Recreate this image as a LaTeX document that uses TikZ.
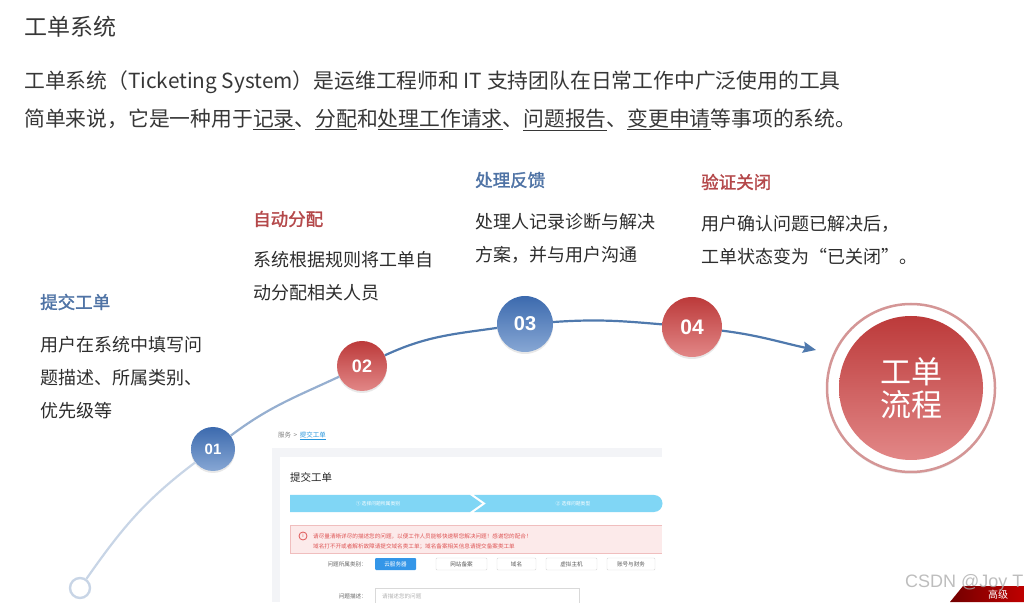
\documentclass[tikz,border=0pt]{standalone}
\usepackage{fontspec}
\setmainfont{Noto Sans CJK SC}
\newfontfamily\headfont{Noto Sans CJK SC}[FakeBold=1.6]
\newfontfamily\numfont{Liberation Sans}
\usetikzlibrary{arrows.meta,positioning,shadows}
\definecolor{txtHead}{RGB}{55,55,55}
\definecolor{txtDark}{RGB}{45,45,45}
\definecolor{stepBlue}{RGB}{79,115,165}
\definecolor{stepRed}{RGB}{180,72,74}
\definecolor{numBlueTop}{RGB}{60,106,174}
\definecolor{numBlueBot}{RGB}{135,167,212}
\definecolor{numRedTop}{RGB}{188,58,58}
\definecolor{numRedBot}{RGB}{226,135,135}
\definecolor{lineLight}{RGB}{200,213,230}
\definecolor{lineMid}{RGB}{150,175,208}
\definecolor{lineBlue}{RGB}{79,121,173}
\definecolor{ringRed}{RGB}{212,150,150}
\definecolor{panelGray}{RGB}{243,244,247}
\definecolor{barCyan}{RGB}{128,214,245}
\definecolor{warnPink}{RGB}{252,234,234}
\definecolor{warnLine}{RGB}{240,190,190}
\definecolor{warnText}{RGB}{222,85,85}
\definecolor{btnBlue}{RGB}{52,150,232}
\definecolor{linkBlue}{RGB}{40,150,220}
\begin{document}
\begin{tikzpicture}[x=1pt, y=1pt,
    stepnum/.style={circle, inner sep=0pt, text=white, font=\numfont\bfseries,
      drop shadow={opacity=0.18, shadow xshift=0pt, shadow yshift=-2pt}},
    bluenum/.style={stepnum, top color=numBlueTop, bottom color=numBlueBot},
    rednum/.style={stepnum, top color=numRedTop, bottom color=numRedBot},
    steptitle/.style={anchor=west, inner sep=0pt, font=\headfont\fontsize{17.5}{21}\selectfont},
    stepdesc/.style={anchor=north west, inner sep=0pt, align=left, text=txtDark, font=\fontsize{18}{33}\selectfont},
    curve/.style={line width=2.2pt},
    tiny/.style={inner sep=0pt, font=\fontsize{5.6}{7}\selectfont},
    btn/.style={tiny, rectangle, rounded corners=1pt, minimum height=12pt}]
  \useasboundingbox (0,0) rectangle (1024,602);
  % header
  \node[anchor=west, inner sep=0pt, text=txtHead, font=\fontsize{23}{27}\selectfont] (title) at (24,575) {工单系统};
  \node[anchor=north west, inner sep=0pt, align=left, text=txtHead, font=\fontsize{20.8}{37.5}\selectfont] (intro) at (24,531)
    {工单系统（Ticketing System）是运维工程师和 IT 支持团队在日常工作中广泛使用的工具\\
     简单来说，它是一种用于\underline{记录}、\underline{分配}和\underline{处理工作请求}、\underline{问题报告}、\underline{变更申请}等事项的系统。};
  % form screenshot
  \fill[panelGray] (272,0) rectangle (662,154);
  \fill[white] (280,0) rectangle (662,145);
  \node[tiny, anchor=west, text=gray, font=\fontsize{6.5}{8}\selectfont] (crumb) at (278,166) {服务 \,>\, \textcolor{linkBlue}{\underline{提交工单}}};
  \node[anchor=west, inner sep=0pt, text=black!85, font=\fontsize{10.5}{12}\selectfont] (formtitle) at (290,125) {提交工单};
  \fill[barCyan] (290,90) -- (470,90) -- (482,98.5) -- (470,107) -- (290,107) -- cycle;
  \fill[barCyan] (474,90) -- (654,90) arc (-90:90:8.5) -- (474,107) -- (486,98.5) -- cycle;
  \node[tiny, text=white, font=\fontsize{4.8}{6}\selectfont] (bar1) at (378,98.5) {① 选择问题所属类别};
  \node[tiny, text=white, font=\fontsize{4.8}{6}\selectfont] (bar2) at (573,98.5) {② 选择问题类型};
  \fill[warnPink] (290,49) rectangle (662,77);
  \draw[warnLine] (662,77) -- (290,77) -- (290,49) -- (662,49);
  \node[circle, draw=warnText, thick, inner sep=0pt, minimum size=8pt, text=warnText, font=\fontsize{5}{6}\selectfont] (warnicon) at (303,66) {i};
  \node[tiny, anchor=west, text=warnText] (warn1) at (313,66) {请尽量清晰详尽的描述您的问题，以便工作人员能够快速帮您解决问题！感谢您的配合！};
  \node[tiny, anchor=west, text=warnText] (warn2) at (313,55) {域名打不开或者解析故障请提交域名类工单；域名备案相关信息请提交备案类工单};
  \node[tiny, anchor=east, text=black!60] (catlabel) at (367,38) {问题所属类别：};
  \node[btn, fill=btnBlue, text=white, minimum width=41pt] (cloud) at (395.5,38) {云服务器};
  \node[btn, draw=black!15, text=black!65, minimum width=51pt] (beian) at (461.5,38) {网站备案};
  \node[btn, draw=black!15, text=black!65, minimum width=39pt] (domain) at (516.5,38) {域名};
  \node[btn, draw=black!15, text=black!65, minimum width=51pt] (vhost) at (571.5,38) {虚拟主机};
  \node[btn, draw=black!15, text=black!65, minimum width=48pt] (account) at (631,38) {账号与财务};
  \node[tiny, anchor=east, text=black!60] (desclabel) at (367,6) {问题描述：};
  \draw[black!15] (375,-4) rectangle (579,14);
  \node[tiny, anchor=west, text=black!30] (placeholder) at (382,6) {请描述您的问题};
  % step circles
  \node[circle, draw=lineLight, line width=2.4pt, minimum size=20pt, inner sep=0pt] (s0) at (80,14) {};
  \node[bluenum, minimum size=44pt, font=\numfont\bfseries\fontsize{15}{15}\selectfont] (c1) at (213,153) {01};
  \node[rednum, minimum size=50pt, font=\numfont\bfseries\fontsize{18}{18}\selectfont] (c2) at (362,236) {02};
  \node[bluenum, minimum size=56pt, font=\numfont\bfseries\fontsize{20}{20}\selectfont] (c3) at (525,278) {03};
  \node[rednum, minimum size=60pt, font=\numfont\bfseries\fontsize{21}{21}\selectfont] (c4) at (692,275) {04};
  \coordinate (tip) at (816,252);
  % the arc through the steps
  \draw[curve, lineLight] (s0) to[out=55, in=217] (c1);
  \draw[curve, lineMid] (c1) to[out=37, in=205] (c2);
  \draw[curve, lineBlue] (c2) to[out=25, in=188] (c3);
  \draw[curve, lineBlue] (c3) to[out=4, in=175] (c4);
  \draw[curve, lineBlue, -{Stealth[length=13pt, width=11pt, inset=2pt]}] (c4) to[out=-7, in=168] (tip);
  % texts of the steps
  \node[steptitle, text=stepBlue] (t1) at (40,300) {提交工单};
  \node[stepdesc] (d1) at (40,266) {用户在系统中填写问\\题描述、所属类别、\\优先级等};
  \node[steptitle, text=stepRed] (t2) at (253,383) {自动分配};
  \node[stepdesc] (d2) at (253,351) {系统根据规则将工单自\\动分配相关人员};
  \node[steptitle, text=stepBlue] (t3) at (475,422) {处理反馈};
  \node[stepdesc] (d3) at (475,389) {处理人记录诊断与解决\\方案，并与用户沟通};
  \node[steptitle, text=stepRed] (t4) at (701,420) {验证关闭};
  \node[stepdesc] (d4) at (701,387) {用户确认问题已解决后，\\工单状态变为“已关闭”。};
  % big circle
  \node[circle, minimum size=168pt, draw=ringRed, line width=2.5pt, fill=white,
    drop shadow={opacity=0.15, shadow xshift=0pt, shadow yshift=-2pt}] (flow) at (911,214) {};
  \node[circle, minimum size=144pt, inner sep=0pt, top color=numRedTop, bottom color=numRedBot,
    text=white, align=center, font=\fontsize{31}{33}\selectfont] (flowin) at (flow.center) {工单\\流程};
  % watermark corner
  \shade[left color=red!45!black, right color=red!75!black] (950,0) -- (963,16) -- (1024,16) -- (1024,0) -- cycle;
  \node[anchor=west, inner sep=0pt, text=white, font=\fontsize{10}{10}\selectfont] (corner) at (988,7.5) {高级};
  \node[anchor=west, inner sep=0pt, text=black!32, opacity=0.8, font=\numfont\fontsize{18}{18}\selectfont] (mark) at (905,19) {CSDN @Joy T};
\end{tikzpicture}
\end{document}
